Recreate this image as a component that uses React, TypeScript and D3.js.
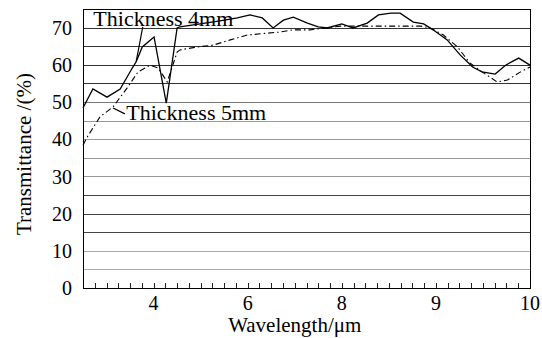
import React from 'react'
import * as d3 from 'd3'

// wavelength (um) and transmittance (%)
const thick4Wave = [2.5, 2.71, 3.01, 3.29, 3.56, 3.63, 3.76, 4.01, 4.27, 4.5, 4.56, 4.99, 5.41, 5.78, 6.05, 6.31, 6.54, 6.76, 6.97, 7.27, 7.5, 7.69, 8.0, 8.12, 8.27, 8.39, 8.52, 8.62, 8.76, 8.87, 8.97, 9.12, 9.26, 9.39, 9.49, 9.63, 9.74, 9.88, 10.0]
const thick4Trans = [48.4, 53.5, 51.3, 53.5, 59.4, 60.8, 64.8, 67.5, 49.7, 69.9, 70.2, 71.0, 71.8, 72.6, 73.4, 72.6, 69.9, 72.0, 72.8, 71.2, 70.2, 69.9, 71.0, 69.9, 71.2, 73.4, 73.9, 73.9, 71.5, 71.0, 69.4, 66.7, 62.6, 59.4, 58.1, 57.5, 59.9, 61.8, 59.9]

const thick5Wave = [2.5, 2.59, 2.86, 3.14, 3.44, 3.67, 3.93, 4.1, 4.29, 4.5, 4.56, 4.93, 5.27, 5.63, 5.99, 6.41, 6.69, 6.97, 7.33, 7.97, 8.16, 8.84, 8.94, 9.08, 9.23, 9.36, 9.49, 9.65, 9.76, 9.9, 10.0]
const thick5Trans = [38.4, 40.6, 46.0, 48.7, 53.8, 58.1, 59.9, 59.1, 55.4, 63.4, 64.0, 64.8, 65.3, 66.7, 68.0, 68.5, 68.8, 69.4, 69.4, 70.4, 70.4, 70.4, 69.9, 68.0, 64.8, 60.5, 58.1, 55.4, 55.9, 58.1, 59.4]

// the axis is not linear: labels are evenly spaced
const xTickValues = [4, 6, 8, 9, 10]
const xTickLabels = ['4', '6', '8', '9', '10']
const yTickValues = [0, 10, 20, 30, 40, 50, 60, 70]
const gridValues = [5, 10, 15, 20, 25, 30, 35, 40, 45, 50, 55, 60, 65, 70]
const gridColors = ['#aaa', '#aaa', '#444', '#444', '#444', '#999', '#999', '#999', '#999', '#777', '#333', '#333', '#333', '#333']

const labels = [
    { text: 'Thickness 4mm', wave: 2.72, trans: 70.5, leader: [[3.77, 70.2], [3.63, 60.8]] },
    { text: 'Thickness 5mm', wave: 3.42, trans: 45.2, leader: [[3.14, 48.4], [3.39, 46.8]] }
]

const W = 542
const H = 338
const margin = { top: 9, right: 12, bottom: 50, left: 83 }
const font = '"Liberation Serif", "Times New Roman", serif'

export default function App() {
    const width = W - margin.left - margin.right
    const height = H - margin.top - margin.bottom

    // 38 minor tick steps across the plot, labels every 8 steps starting at step 6
    const tickScale = d3.scaleLinear().domain([0, 38]).range([0, width])
    const x = d3.scaleLinear()
        .domain([2.5, 4, 6, 8, 9, 10])
        .range([0, 6, 14, 22, 30, 38].map(t => tickScale(t)))
    const y = d3.scaleLinear().domain([0, 75]).range([height, 0])

    const line = d3.line<number[]>()
        .x(d => x(d[0]))
        .y(d => y(d[1]))

    const path4 = line(thick4Wave.map((w, i) => [w, thick4Trans[i]])) || ''
    const path5 = line(thick5Wave.map((w, i) => [w, thick5Trans[i]])) || ''

    const px = (v: number) => Math.round(v) + 0.5

    return (
        <svg width={W} height={H} style={{ position: 'absolute', left: 0, top: 0, display: 'block', background: '#fff' }}>
            <g transform={`translate(${margin.left},${margin.top})`}>
                {/* grid */}
                {gridValues.map((d, i) => (
                    <line key={d} x1={0} x2={width} y1={px(y(d))} y2={px(y(d))} stroke={gridColors[i]} />
                ))}
                {/* minor ticks, pointing up */}
                {d3.range(1, 38).map(t => (
                    <line key={t} x1={px(tickScale(t))} x2={px(tickScale(t))} y1={height} y2={height - 5} stroke="#222" />
                ))}
                <rect x={0.5} y={0.5} width={width} height={height} fill="none" stroke="#000" />

                {yTickValues.map(d => (
                    <text key={d} x={-11} y={y(d)} dy="0.36em" textAnchor="end" fontSize={20} style={{ fontFamily: font }}>{d}</text>
                ))}
                {xTickValues.map((d, i) => (
                    <text key={d} x={x(d)} y={height + 22} textAnchor="middle" fontSize={20} style={{ fontFamily: font }}>{xTickLabels[i]}</text>
                ))}

                <path d={path5} fill="none" stroke="#000" strokeWidth={1.1} strokeDasharray="6,3,1.5,3" />
                <path d={path4} fill="none" stroke="#000" strokeWidth={1.3} />

                {labels.map(l => (
                    <g key={l.text}>
                        <path d={line(l.leader) || ''} stroke="#000" strokeWidth={1.2} />
                        <text x={x(l.wave)} y={y(l.trans)} fontSize={22} style={{ fontFamily: font }}>{l.text}</text>
                    </g>
                ))}
            </g>
            <text x={margin.left + x(7.0)} y={332} textAnchor="middle" fontSize={21} style={{ fontFamily: font }}>Wavelength/μm</text>
            <text transform={`translate(31,${margin.top + y(36)}) rotate(-90)`} textAnchor="middle" fontSize={21} style={{ fontFamily: font }}>Transmittance /(%)</text>
        </svg>
    )
}
